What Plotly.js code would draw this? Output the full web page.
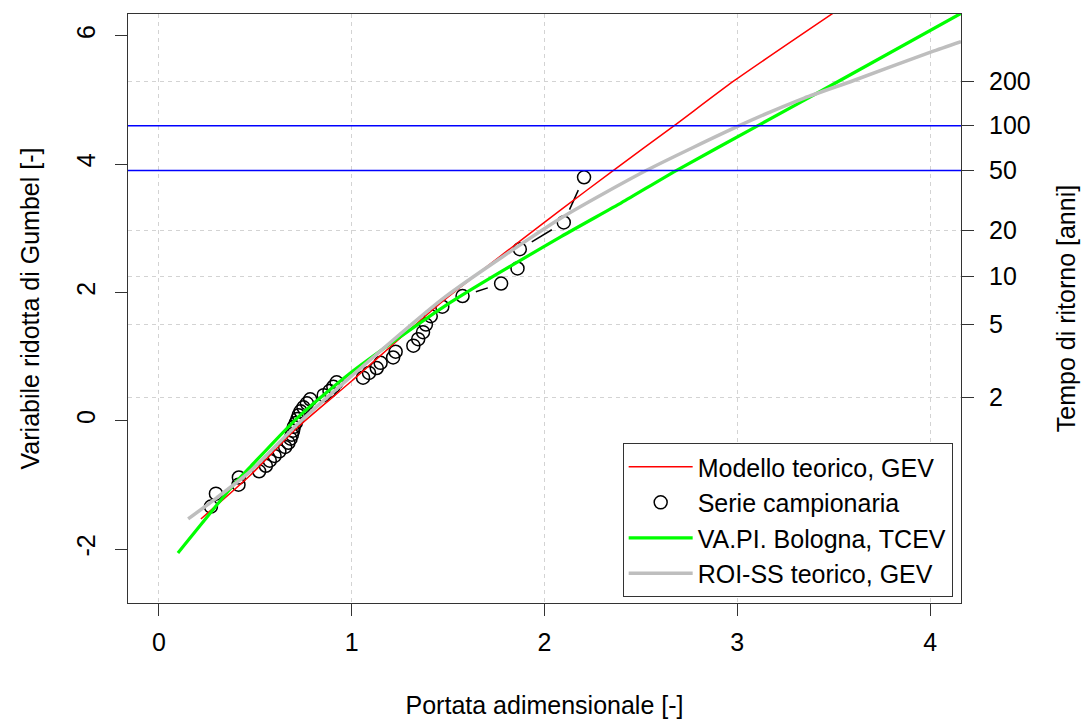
<!DOCTYPE html>
<html>
<head>
<meta charset="utf-8">
<script src="https://cdn.plot.ly/plotly-3.0.1.min.js"></script>
<style>html,body{margin:0;padding:0;background:#fff;}#chart{width:1084px;height:719px;}</style>
</head>
<body>
<div id="chart"></div>
<script>
// Sample series (Weibull plotting positions, Gumbel reduced variate)
var sampleX = [0.27,0.296,0.413,0.415,0.52,0.555,0.575,0.60,0.625,0.655,0.672,0.683,0.69,0.696,0.70,0.71,0.718,0.725,0.735,0.75,0.768,0.785,0.855,0.885,0.905,0.922,1.059,1.09,1.13,1.15,1.215,1.228,1.32,1.345,1.37,1.385,1.41,1.47,1.575,1.775,1.86,1.872,2.10,2.205];
var sampleY = [-1.337,-1.136,-0.996,-0.884,-0.787,-0.701,-0.621,-0.547,-0.476,-0.408,-0.343,-0.279,-0.217,-0.155,-0.094,-0.034,0.027,0.087,0.148,0.209,0.272,0.335,0.399,0.464,0.531,0.600,0.672,0.746,0.822,0.903,0.987,1.076,1.171,1.272,1.381,1.500,1.631,1.778,1.944,2.139,2.374,2.674,3.091,3.795];

// Modello teorico, GEV (red)
var gevX = [0.218,0.477,0.72,1.0,1.463,2.086,2.356,2.673,2.984,3.50];
var gevY = [-1.53,-0.84,-0.10,0.62,1.84,3.29,3.90,4.60,5.30,6.36];

// VA.PI. Bologna, TCEV (green)
var tcevX = [0.099,0.39,0.477,0.72,1.0,1.479,2.086,2.40,2.683,3.107,3.53,4.16];
var tcevY = [-2.06,-0.99,-0.71,0.05,0.76,1.78,2.87,3.40,3.90,4.60,5.30,6.35];

// ROI-SS teorico, GEV (gray)
var roiX = [0.152,0.30,0.477,0.72,1.0,1.48,2.086,2.527,3.01,3.347,3.60,4.006,4.16];
var roiY = [-1.53,-1.20,-0.78,-0.05,0.70,1.92,3.16,3.90,4.60,5.03,5.30,5.75,5.91];

// Return period axis
var returnPeriods = [2,5,10,20,50,100,200];
var highlightT = [50,100];

var xTicks = [0,1,2,3,4];
var yTicks = [-2,0,2,4,6];

function gumbel(T){ return -Math.log(-Math.log(1-1/T)); }

var XR = [-0.16, 4.16], YR = [-2.84, 6.34];
var M = {l:128, r:123, t:14, b:116};
var W = 1084 - M.l - M.r, H = 719 - M.t - M.b;

// type="b" style connecting segments with gaps around points
var segX = [], segY = [], gap = 14;
for (var i = 0; i < sampleX.length - 1; i++) {
  var ax = (sampleX[i]-XR[0])/(XR[1]-XR[0])*W, ay = (sampleY[i]-YR[0])/(YR[1]-YR[0])*H;
  var bx = (sampleX[i+1]-XR[0])/(XR[1]-XR[0])*W, by = (sampleY[i+1]-YR[0])/(YR[1]-YR[0])*H;
  var dx = bx-ax, dy = by-ay, d = Math.sqrt(dx*dx+dy*dy);
  if (d > 2*gap) {
    var ux = dx/d, uy = dy/d;
    var p1x = ax+ux*gap, p1y = ay+uy*gap, p2x = bx-ux*gap, p2y = by-uy*gap;
    segX.push(XR[0]+p1x/W*(XR[1]-XR[0]), XR[0]+p2x/W*(XR[1]-XR[0]), null);
    segY.push(YR[0]+p1y/H*(YR[1]-YR[0]), YR[0]+p2y/H*(YR[1]-YR[0]), null);
  }
}

var font = {family: '"Liberation Sans", Arial, Helvetica, sans-serif', size: 25, color: '#000'};

var traces = [
  {x: segX, y: segY, mode: 'lines', line: {color: '#000', width: 1.5}, showlegend: false, hoverinfo: 'skip'},
  {x: sampleX, y: sampleY, mode: 'markers', name: 'Serie campionaria', legendrank: 2,
   marker: {symbol: 'circle-open', size: 13, color: '#000', line: {width: 1.5, color: '#000'}}},
  {x: gevX, y: gevY, mode: 'lines', name: 'Modello teorico, GEV', legendrank: 1,
   line: {color: '#ff0000', width: 1.5, shape: 'spline', smoothing: 0.6}},
  {x: tcevX, y: tcevY, mode: 'lines', name: 'VA.PI. Bologna, TCEV', legendrank: 3,
   line: {color: '#00ff00', width: 3.2, shape: 'spline', smoothing: 0.6}},
  {x: roiX, y: roiY, mode: 'lines', name: 'ROI-SS teorico, GEV', legendrank: 4,
   line: {color: '#bebebe', width: 3.5, shape: 'spline', smoothing: 0.6}},
  {x: [null], y: [null], yaxis: 'y2', showlegend: false, hoverinfo: 'skip', mode: 'markers'}
];

var shapes = highlightT.map(function(T){
  return {type: 'line', xref: 'paper', x0: 0, x1: 1, yref: 'y', y0: gumbel(T), y1: gumbel(T),
          line: {color: '#0000ff', width: 1.5}, layer: 'above'};
});

var axisCommon = {
  ticks: 'outside', ticklen: 12, tickwidth: 1, tickcolor: '#333',
  showline: true, linecolor: '#333', linewidth: 1, zeroline: false,
  tickfont: font
};

var layout = {
  width: 1084, height: 719,
  margin: M,
  paper_bgcolor: '#fff', plot_bgcolor: '#fff',
  font: font,
  showlegend: true,
  legend: {x: 0.99, y: 0.01, xanchor: 'right', yanchor: 'bottom',
           bgcolor: '#fff', bordercolor: '#333', borderwidth: 1,
           font: font, itemwidth: 64, traceorder: 'normal'},
  xaxis: Object.assign({}, axisCommon, {
    range: XR, tickmode: 'array', tickvals: xTicks, ticktext: xTicks.map(String),
    mirror: true, showgrid: true, gridcolor: '#d3d3d3', griddash: '4px,4px', gridwidth: 1,
    ticklabelstandoff: 5,
    title: {text: 'Portata adimensionale [-]', font: font, standoff: 42}
  }),
  yaxis: Object.assign({}, axisCommon, {
    range: YR, tickmode: 'array', tickvals: yTicks, ticktext: yTicks.map(String),
    tickangle: -90, mirror: true, showgrid: false,
    ticklabelstandoff: 10,
    title: {text: 'Variabile ridotta di Gumbel [-]', font: font, standoff: 25}
  }),
  yaxis2: Object.assign({}, axisCommon, {
    overlaying: 'y', side: 'right', anchor: 'x',
    range: YR, tickmode: 'array', tickvals: returnPeriods.map(gumbel), ticktext: returnPeriods.map(String),
    showgrid: true, gridcolor: '#d3d3d3', griddash: '4px,4px', gridwidth: 1,
    ticklabelstandoff: 10,
    title: {text: 'Tempo di ritorno [anni]', font: font, standoff: 27}
  }),
  shapes: shapes
};

Plotly.newPlot('chart', traces, layout, {displayModeBar: false, staticPlot: true});
</script>
</body>
</html>
